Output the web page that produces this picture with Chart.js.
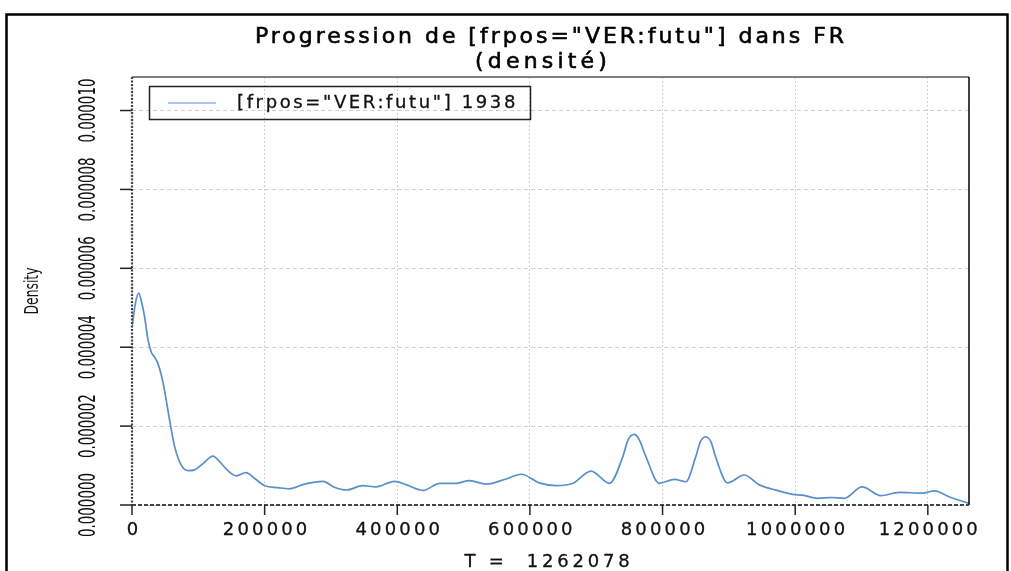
<!DOCTYPE html>
<html>
<head>
<meta charset="utf-8">
<script src="https://cdn.jsdelivr.net/npm/chart.js@4/dist/chart.umd.min.js"></script>
<style>
  html, body { margin: 0; padding: 0; background: #fff; }
  #wrap { width: 1011px; height: 571px; }
</style>
</head>
<body>
<div id="wrap"><canvas id="c" width="1011" height="571"></canvas></div>
<script>
// position in the text (T) and estimated density
const positions = [
  0, 5000, 10000, 15000, 19000, 24000, 29000, 34000, 39000, 47000,
  56700, 64300, 74300, 84300, 94400, 107000, 122000, 132000, 144600, 157000,
  172000, 185000, 200000, 220000, 237000, 260000, 288000, 305000, 323000, 348000,
  368000, 396000, 414000, 439000, 464000, 489000, 509000, 534000, 564000, 587000,
  614000, 640000, 665000, 692000, 720000, 740000, 748000, 757000, 765000, 775000,
  795000, 818000, 835000, 850000, 857000, 865000, 873000, 880000, 898000, 923000,
  946000, 966000, 996000, 1011000, 1034000, 1054000, 1074000, 1101000, 1129000, 1157000,
  1192000, 1210000, 1232000, 1262000
]
const density = [
  4.5e-6, 5.1e-6, 5.37e-6, 5.1e-6, 4.77e-6, 4.2e-6, 3.88e-6, 3.75e-6, 3.59e-6, 3.09e-6,
  2.15e-6, 1.48e-6, 1.01e-6, 0.87e-6, 0.89e-6, 1.05e-6, 1.24e-6, 1.10e-6, 0.87e-6, 0.74e-6,
  0.82e-6, 0.67e-6, 0.49e-6, 0.44e-6, 0.41e-6, 0.53e-6, 0.60e-6, 0.45e-6, 0.38e-6, 0.49e-6,
  0.46e-6, 0.60e-6, 0.51e-6, 0.37e-6, 0.55e-6, 0.55e-6, 0.62e-6, 0.53e-6, 0.66e-6, 0.78e-6,
  0.56e-6, 0.49e-6, 0.55e-6, 0.86e-6, 0.55e-6, 1.22e-6, 1.65e-6, 1.79e-6, 1.65e-6, 1.22e-6,
  0.55e-6, 0.65e-6, 0.59e-6, 1.22e-6, 1.60e-6, 1.73e-6, 1.60e-6, 1.22e-6, 0.56e-6, 0.76e-6,
  0.51e-6, 0.40e-6, 0.27e-6, 0.25e-6, 0.17e-6, 0.19e-6, 0.17e-6, 0.46e-6, 0.24e-6, 0.32e-6,
  0.30e-6, 0.36e-6, 0.21e-6, 0.04e-6
]

const xTicks = [0, 200000, 400000, 600000, 800000, 1000000, 1200000]
const xTickLabels = ["0", "200000", "400000", "600000", "800000", "1000000", "1200000"]
const yTicks = [0, 2e-6, 4e-6, 6e-6, 8e-6, 1e-5]
const yTickLabels = ["0.000000", "0.000002", "0.000004", "0.000006", "0.000008", "0.000010"]

const seriesLabel = '[frpos="VER:futu"] 1938'
const titleLines = ['Progression de [frpos="VER:futu"] dans FR', '(densité)']
const xTitle = "T =  1262078"
const yTitle = "Density"
const xMax = 1262078
const yMax = 1.085e-5

const lineColor = "#5790cb"
const plainFont = "'DejaVu Sans', Verdana, sans-serif"
const narrowFont = "'Liberation Sans Narrow', 'DejaVu Sans Condensed', 'Noto Sans', sans-serif"

// draws text centred (or left aligned), spread or squeezed to a given width
function fitText(ctx, s, x, y, font, width, opts) {
  opts = opts || {}
  ctx.save()
  ctx.font = font
  ctx.fillStyle = opts.color || "#111"
  ctx.textBaseline = "middle"
  ctx.textAlign = "left"
  ctx.letterSpacing = "0px"
  const w = ctx.measureText(s).width
  ctx.translate(x, y)
  if (opts.rotate) ctx.rotate(opts.rotate)
  let sx = 1
  let spread = false
  if (width > w && !opts.squeezeOnly) {
    ctx.letterSpacing = ((width - w) / s.length) + "px"
    spread = true
  } else {
    sx = width / w
  }
  ctx.scale(sx, 1)
  const startX = opts.left ? 0 : -(spread ? width : w) / 2
  ctx.fillText(s, startX, 0)
  if (opts.heavy) {
    ctx.strokeStyle = ctx.fillStyle
    ctx.lineWidth = opts.heavy
    ctx.strokeText(s, startX, 0)
  }
  ctx.restore()
}

const decorPlugin = {
  id: "decor",
  afterDraw(chart) {
    const ctx = chart.ctx
    const a = chart.chartArea
    const xs = chart.scales.x
    const ys = chart.scales.y

    ctx.save()
    // outer frame
    ctx.strokeStyle = "#000"
    ctx.lineWidth = 2.5
    ctx.strokeRect(6.5, 14.5, 1001, 570)

    // top and right edges of the plot box
    ctx.lineWidth = 1.5
    ctx.strokeStyle = "#555"
    ctx.beginPath()
    ctx.moveTo(a.left, a.top)
    ctx.lineTo(a.right, a.top)
    ctx.stroke()
    ctx.strokeStyle = "#000"
    ctx.beginPath()
    ctx.moveTo(a.right, a.top)
    ctx.lineTo(a.right, a.bottom)
    ctx.stroke()

    // zero lines (dotted / dashed)
    ctx.strokeStyle = "#444"
    ctx.lineWidth = 2.2
    ctx.setLineDash([2, 1.5])
    ctx.beginPath()
    ctx.moveTo(xs.getPixelForValue(0), a.top)
    ctx.lineTo(xs.getPixelForValue(0), a.bottom)
    ctx.stroke()
    ctx.setLineDash([4, 2])
    ctx.beginPath()
    ctx.moveTo(a.left, ys.getPixelForValue(0))
    ctx.lineTo(a.right, ys.getPixelForValue(0))
    ctx.stroke()
    ctx.setLineDash([])

    // tick marks
    ctx.strokeStyle = "#222"
    ctx.lineWidth = 1.5
    yTicks.forEach(v => {
      const py = ys.getPixelForValue(v)
      ctx.beginPath()
      ctx.moveTo(a.left - 12, py)
      ctx.lineTo(a.left, py)
      ctx.stroke()
    })
    xTicks.forEach(v => {
      const px = xs.getPixelForValue(v)
      ctx.beginPath()
      ctx.moveTo(px, a.bottom)
      ctx.lineTo(px, a.bottom + 10)
      ctx.stroke()
    })
    ctx.restore()

    // tick labels
    yTicks.forEach((v, i) => {
      fitText(ctx, yTickLabels[i], 89, ys.getPixelForValue(v), "23px " + narrowFont, 64,
        { rotate: -Math.PI / 2, squeezeOnly: true })
    })
    xTicks.forEach((v, i) => {
      const s = xTickLabels[i]
      fitText(ctx, s, xs.getPixelForValue(v) + 2, a.bottom + 25, "18px " + plainFont, s.length * 14.6,
        { heavy: 0.3 })
    })

    // axis titles
    fitText(ctx, yTitle, 33, 291, "19px " + narrowFont, 47, { rotate: -Math.PI / 2, squeezeOnly: true })
    fitText(ctx, xTitle, 549, 562, "18px " + plainFont, 169, { heavy: 0.3 })

    // main title
    fitText(ctx, titleLines[0], 551, 37, "22px " + plainFont, 592, { color: "#000", heavy: 0.6 })
    fitText(ctx, titleLines[1], 543, 62, "22px " + plainFont, 136, { color: "#000", heavy: 0.6 })

    // legend box
    ctx.save()
    ctx.strokeStyle = "#222"
    ctx.lineWidth = 1.5
    ctx.strokeRect(149.5, 86.5, 381, 33)
    ctx.strokeStyle = chart.data.datasets[0].borderColor
    ctx.lineWidth = 1.2
    ctx.beginPath()
    ctx.moveTo(168, 103)
    ctx.lineTo(216, 103)
    ctx.stroke()
    ctx.restore()
    fitText(ctx, chart.data.datasets[0].label, 237, 103, "18px " + plainFont, 281, { left: true, heavy: 0.3 })
  }
}

new Chart(document.getElementById("c"), {
  type: "line",
  data: {
    datasets: [{
      label: seriesLabel,
      data: positions.map((p, i) => ({ x: p, y: density[i] })),
      borderColor: lineColor,
      borderWidth: 1.7,
      pointRadius: 0,
      cubicInterpolationMode: "monotone",
      fill: false
    }]
  },
  options: {
    responsive: false,
    animation: false,
    events: [],
    layout: { padding: { left: 132, right: 42, top: 77, bottom: 66 } },
    plugins: {
      legend: { display: false },
      tooltip: { enabled: false },
      title: { display: false }
    },
    scales: {
      x: {
        type: "linear",
        min: 0,
        max: xMax,
        afterBuildTicks: s => { s.ticks = xTicks.map(v => ({ value: v })) },
        ticks: { display: false },
        grid: { color: "#cfcfcf", lineWidth: 1, drawTicks: false },
        border: { display: false, dash: [2, 2] }
      },
      y: {
        type: "linear",
        min: 0,
        max: yMax,
        afterBuildTicks: s => { s.ticks = yTicks.map(v => ({ value: v })) },
        ticks: { display: false },
        grid: { color: "#cfcfcf", lineWidth: 1, drawTicks: false },
        border: { display: false, dash: [4, 3] }
      }
    }
  },
  plugins: [decorPlugin]
})
</script>
</body>
</html>
